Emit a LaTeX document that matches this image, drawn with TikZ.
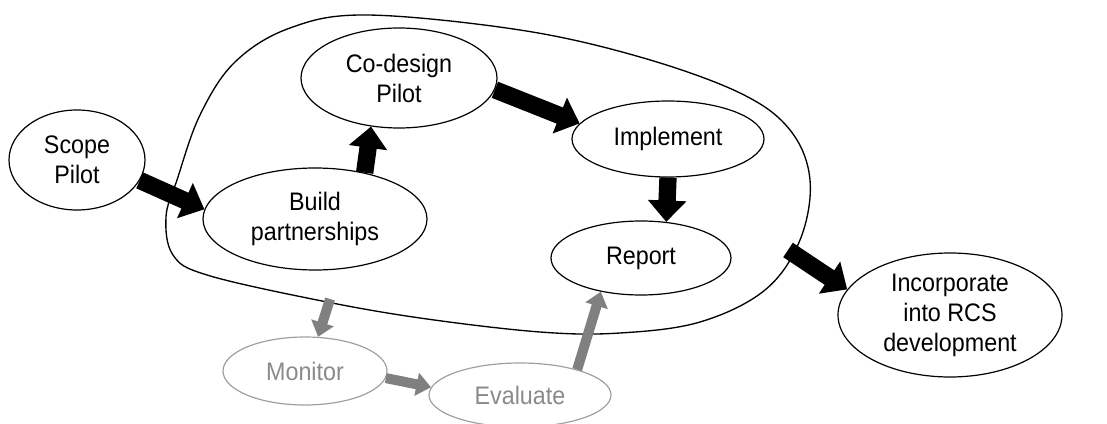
\documentclass[tikz,border=0pt]{standalone}
\usepackage{fontspec}
\setmainfont[FakeStretch=0.92]{Liberation Sans}
\usetikzlibrary{shapes.geometric,arrows.meta}
\definecolor{greyarrow}{HTML}{808080}
\definecolor{greytext}{HTML}{8A8A8A}
\definecolor{greyline}{HTML}{A0A0A0}
\begin{document}
\begin{tikzpicture}[x=0.75pt,y=-0.75pt,
  bub/.style={ellipse,draw=black,line width=0.9pt,fill=white,inner sep=0pt,align=center,
    font=\fontsize{19}{22.5}\selectfont},
  gbub/.style={bub,draw=greyline,text=greytext},
  fat/.style={line width=13pt,-{Triangle[length=16pt,width=28pt]}},
  gfat/.style={line width=7.5pt,draw=greyarrow,-{Triangle[length=11pt,width=17pt]},greyarrow}]
\useasboundingbox (0,0) rectangle (1107,424);
% enclosing blob
\draw[line width=1pt] plot[smooth cycle,tension=0.6] coordinates {
 (367,15) (520,30) (640,57) (740,93) (790,130) (810,180) (800,240) (765,290)
 (700,322) (620,333) (540,332) (420,318) (317,300) (207,275) (173,255) (166,217)
 (177,180) (200,115) (235,62) (290,28)};
\coordinate (blobexit) at (788,250);
\coordinate (blobbottom) at (330,299);
% nodes
\node[bub,minimum width=102pt,minimum height=75pt] (scope) at (77,160) {Scope\\Pilot};
\node[bub,minimum width=147pt,minimum height=75pt] (codesign) at (399,78) {Co-design\\Pilot};
\node[bub,minimum width=168pt,minimum height=76.5pt] (build) at (315,219) {Build\\partnerships};
\node[bub,minimum width=144pt,minimum height=57pt] (implement) at (668,139) {Implement};
\node[bub,minimum width=135pt,minimum height=55.5pt] (report) at (641,258) {Report};
\node[bub,minimum width=168pt,minimum height=93pt] (incorp) at (950,315) {Incorporate\\into RCS\\development};
\node[gbub,minimum width=123pt,minimum height=51pt] (monitor) at (305,371) {Monitor};
\node[gbub,minimum width=136.5pt,minimum height=48pt] (evaluate) at (520,395) {Evaluate};
% black arrows
\draw[fat] (scope.-18) -- (build.175);
\draw[fat] (build.43) -- (codesign.-120);
\draw[fat] (codesign.-7) -- (implement.170);
\draw[fat] (implement.south) -- (report.55);
\draw[fat] (blobexit) -- (incorp.166);
% grey arrows
\draw[gfat] (blobbottom) -- (monitor.69);
\draw[gfat] (monitor.-5) -- (evaluate.175);
\draw[gfat] (evaluate.24) -- (report.-140);
\end{tikzpicture}
\end{document}
